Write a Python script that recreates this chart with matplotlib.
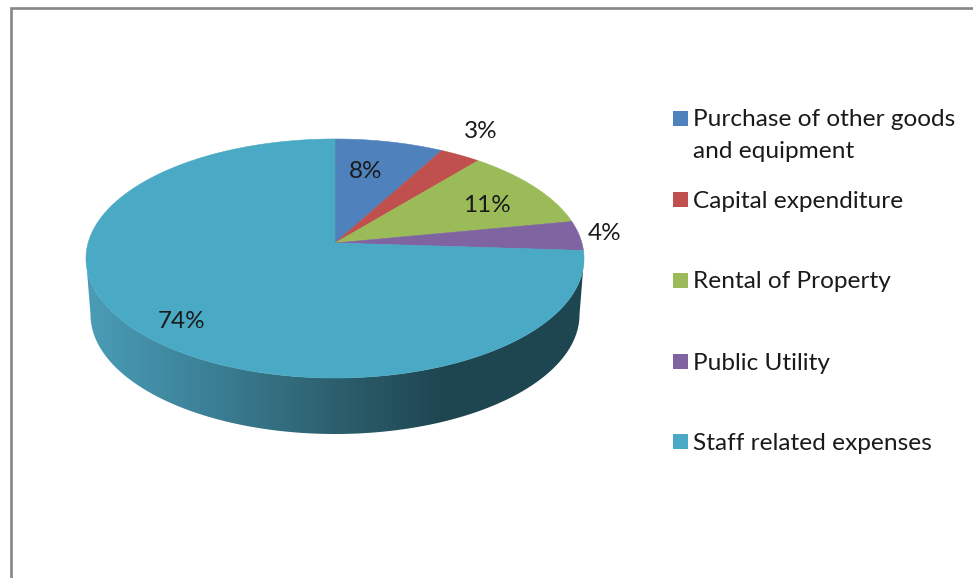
#!/usr/bin/env python3
"""
3D looking expenditure pie chart, drawn in pixel coordinates
"""

import numpy as np
import matplotlib.pyplot as plt
from matplotlib.colors import LinearSegmentedColormap
from matplotlib.patches import Polygon, Rectangle

categories = ['Purchase of other goods\nand equipment', 'Capital expenditure',
              'Rental of Property', 'Public Utility', 'Staff related expenses']
shares = [8, 3, 11, 4, 74]
share_labels = ['8%', '3%', '11%', '4%', '74%']

slice_colors = ['#4F81BD', '#C0504D', '#9BBB59', '#8064A2', '#4AA9C4']
label_xy = [(366, 172), (481, 132), (487, 205), (605, 234), (182, 322)]
legend_y = [118, 199, 280, 361, 441]

W, H = 973, 578
CX, CY = 335, 243
PERSP = 0.1297
AX, AY = 246.9, 117.5
DEPTH = 56

plt.rcParams['font.family'] = ['Lato', 'DejaVu Sans']


def project(deg, scale=1.0, drop=0.0):
    """Map a pie angle (clockwise from 12 o'clock) onto the tilted disc"""
    t = np.radians(deg)
    u, v = np.sin(t), np.cos(t)
    w = 1 + PERSP * v
    x = CX + scale * AX * u / w
    y = CY - AY * v / w + drop
    return np.column_stack([x, y])


fig = plt.figure(figsize=(W / 100, H / 100), dpi=100, facecolor='white')
ax = fig.add_axes([0, 0, 1, 1])
ax.set_xlim(0, W)
ax.set_ylim(H, 0)
ax.axis('off')

# Frame, only top and left are in view
ax.plot([10.5, 10.5, W], [H, 8, 8], color='#868686', lw=1.9,
        solid_joinstyle='miter')

# Side wall of the disc with the horizontal shading
edge = np.degrees(np.arccos(-PERSP))
front = np.linspace(edge, 360 - edge, 200)
wall = np.vstack([project(front), project(front[::-1], scale=0.982, drop=DEPTH)])
wall_patch = Polygon(wall, closed=True, facecolor='none', edgecolor='none')
ax.add_patch(wall_patch)
wall_cmap = LinearSegmentedColormap.from_list(
    'wall', [(0, '#1E4651'), (0.28, '#1E4651'), (0.49, '#2C5E6C'),
             (0.78, '#3D839A'), (1, '#4A9DB6')])
grad = ax.imshow(np.tile(np.linspace(0, 1, 512), (2, 1)), cmap=wall_cmap,
                 extent=[584, 86, 440, 240], aspect='auto', zorder=1)
grad.set_clip_path(wall_patch)
ax.set_xlim(0, W)
ax.set_ylim(H, 0)

# Top face
start = 0.0
for share, color in zip(shares, slice_colors):
    stop = start + share * 3.6
    arc = project(np.linspace(start, stop, max(int(share * 6), 8)))
    pts = np.vstack([[CX, CY], arc])
    ax.add_patch(Polygon(pts, closed=True, facecolor=color, edgecolor=color,
                         lw=0.4, zorder=2))
    start = stop

for text, (x, y) in zip(share_labels, label_xy):
    ax.text(x, y, text, ha='center', va='center', fontsize=17.5, color='#1A1A1A',
            zorder=3)

# Legend
for name, color, y in zip(categories, slice_colors, legend_y):
    ax.add_patch(Rectangle((673, y - 7.5), 15, 15, facecolor=color, edgecolor='none'))
    lines = name.split('\n')
    for i, line in enumerate(lines):
        ax.text(693, y + 2 + i * 32, line, ha='left', va='center',
                fontsize=17.6, color='#1A1A1A')

fig.savefig('out.png', dpi=100, facecolor='white')
plt.close(fig)
